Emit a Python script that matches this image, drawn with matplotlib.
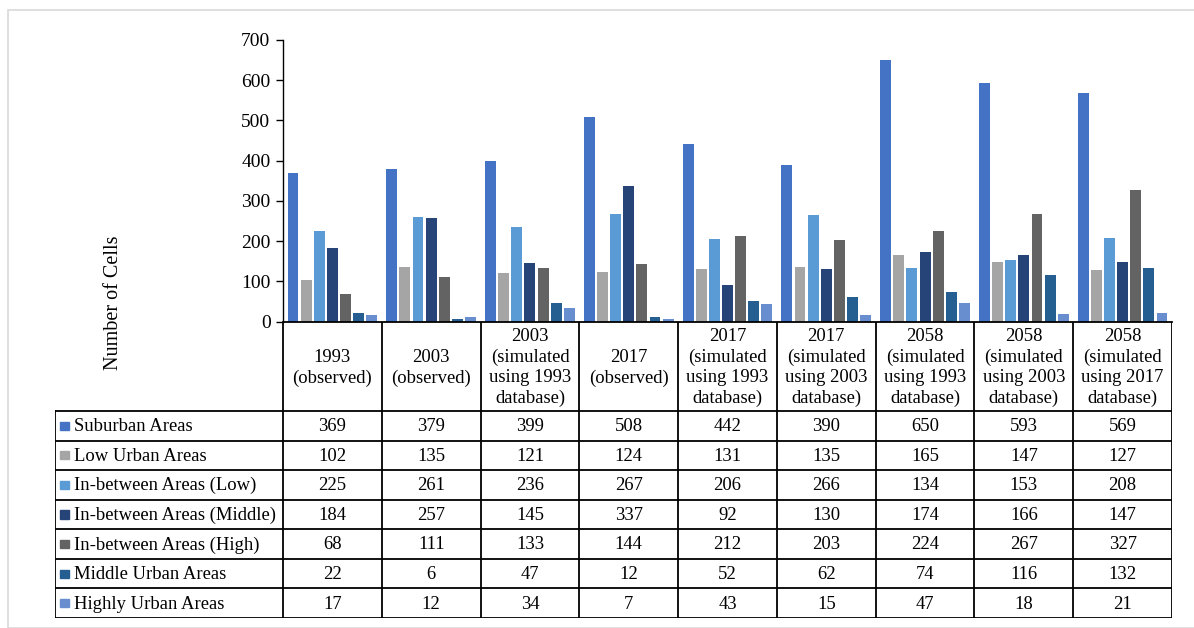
import numpy as np
import matplotlib.pyplot as plt
from matplotlib.patches import Rectangle

plt.rcParams["font.family"] = ["Liberation Serif", "DejaVu Serif"]

# ------------------ DATA ------------------
categories = [
    "1993\n(observed)",
    "2003\n(observed)",
    "2003\n(simulated\nusing 1993\ndatabase)",
    "2017\n(observed)",
    "2017\n(simulated\nusing 1993\ndatabase)",
    "2017\n(simulated\nusing 2003\ndatabase)",
    "2058\n(simulated\nusing 1993\ndatabase)",
    "2058\n(simulated\nusing 2003\ndatabase)",
    "2058\n(simulated\nusing 2017\ndatabase)",
]
series_names = [
    "Suburban Areas",
    "Low Urban Areas",
    "In-between Areas (Low)",
    "In-between Areas (Middle)",
    "In-between Areas (High)",
    "Middle Urban Areas",
    "Highly Urban Areas",
]
suburban = [369, 379, 399, 508, 442, 390, 650, 593, 569]
low_urban = [102, 135, 121, 124, 131, 135, 165, 147, 127]
between_low = [225, 261, 236, 267, 206, 266, 134, 153, 208]
between_middle = [184, 257, 145, 337, 92, 130, 174, 166, 147]
between_high = [68, 111, 133, 144, 212, 203, 224, 267, 327]
middle_urban = [22, 6, 47, 12, 52, 62, 74, 116, 132]
highly_urban = [17, 12, 34, 7, 43, 15, 47, 18, 21]

values = [suburban, low_urban, between_low, between_middle,
          between_high, middle_urban, highly_urban]
colors = ["#4472C4", "#A5A5A5", "#5B9BD5", "#264478",
          "#636363", "#255E91", "#698ED0"]

# ------------------ LAYOUT (pixels) ------------------
W, H = 1194, 628
ax_left, ax_right = 283, 1172
ax_top, ax_bottom = 40, 321.5
tab_left = 55
head_bottom = 411
tab_bottom = 618
fs = 13.4

fig = plt.figure(figsize=(W / 100, H / 100), dpi=100)

# light outer frame
fig.patches.append(Rectangle((8 / W, 0), 1.2, 1 - 10 / H, transform=fig.transFigure,
                             fill=False, edgecolor="#D9D9D9", lw=1.2))

ax = fig.add_axes([ax_left / W, 1 - ax_bottom / H,
                   (ax_right - ax_left) / W, (ax_bottom - ax_top) / H])

n_cat = len(categories)
n_ser = len(series_names)
x = np.arange(n_cat)
slot = 0.93 / n_ser
for i, (vals, c) in enumerate(zip(values, colors)):
    ax.bar(x - 0.465 + slot * (i + 0.5), vals, width=slot * 0.83, color=c, zorder=2)

ax.set_xlim(-0.5, n_cat - 0.5)
ax.set_ylim(0, 700)
ax.set_yticks(range(0, 701, 100))
ax.tick_params(axis="y", labelsize=14, direction="out", length=5, width=1, pad=4)
ax.set_xticks([])
for s in ["top", "right"]:
    ax.spines[s].set_visible(False)
ax.spines["left"].set_linewidth(1)
ax.spines["bottom"].set_linewidth(1.3)

# ------------------ DATA TABLE ------------------
cw = (ax_right - ax_left) / n_cat
lw_units = (ax_left - tab_left) / cw
tax = fig.add_axes([tab_left / W, 1 - tab_bottom / H,
                    (ax_right - tab_left) / W, (tab_bottom - ax_bottom) / H])
tax.set_xlim(-0.5 - lw_units, n_cat - 0.5)
row_h = (tab_bottom - head_bottom) / n_ser
head_h = (head_bottom - ax_bottom) / row_h
tax.set_ylim(n_ser, -head_h)
tax.axis("off")

line_kw = dict(color="black", lw=1.3)
# vertical lines in header and body
for j in range(n_cat + 1):
    tax.plot([j - 0.5, j - 0.5], [-head_h, n_ser], **line_kw)
tax.plot([-0.5 - lw_units, -0.5 - lw_units], [0, n_ser], **line_kw)
# horizontal lines
for r in range(n_ser + 1):
    tax.plot([-0.5 - lw_units, n_cat - 0.5], [r, r], **line_kw)

for j, cat in enumerate(categories):
    tax.text(j, -head_h / 2 + 0.05, cat, ha="center", va="center", fontsize=fs,
             linespacing=1.25)

for r, (name, vals, c) in enumerate(zip(series_names, values, colors)):
    tax.add_patch(Rectangle((-0.5 - lw_units + 0.055, r + 0.5 - 0.14), 0.085, 0.28,
                            color=c))
    tax.text(-0.5 - lw_units + 0.19, r + 0.53, name, ha="left", va="center", fontsize=fs)
    for j, v in enumerate(vals):
        tax.text(j, r + 0.53, str(v), ha="center", va="center", fontsize=fs)

fig.text(113 / W, 1 - 303 / H, "Number of Cells", rotation=90, ha="center",
         va="center", fontsize=14.5)

fig.savefig("out.png", dpi=100)
